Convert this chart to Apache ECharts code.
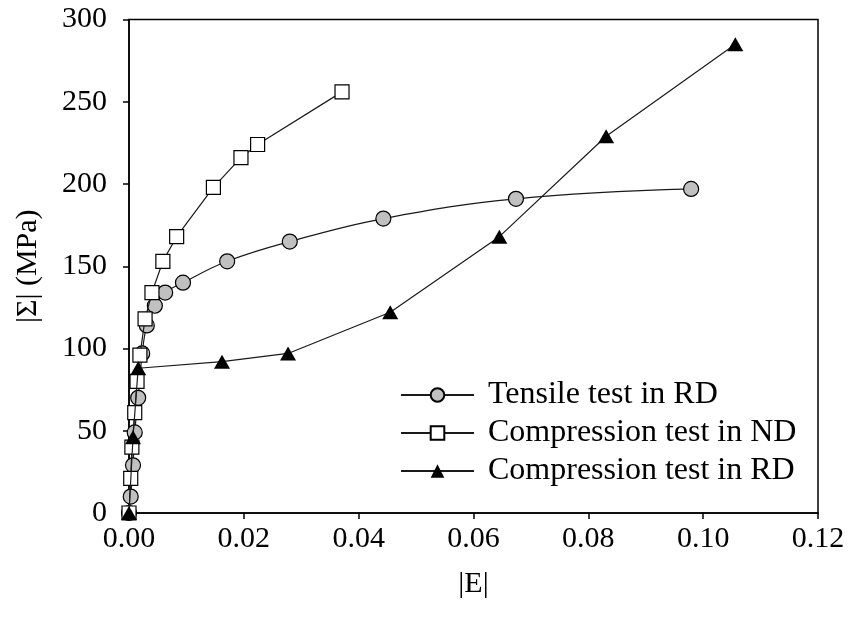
<!DOCTYPE html>
<html>
<head>
<meta charset="utf-8">
<script src="https://cdn.jsdelivr.net/npm/echarts@6/dist/echarts.min.js"></script>
<style>
  html, body { margin: 0; padding: 0; background: #fff; }
  #chart { width: 849px; height: 626px; }
</style>
</head>
<body>
<div id="chart"></div>
<script>
// Strain |E| and stress |Σ| (MPa) for each test
const tensileRD_E = [0, 0.0003, 0.0007, 0.0010, 0.0016, 0.0023, 0.0031, 0.0045, 0.0063, 0.0094, 0.0171, 0.0280, 0.0443, 0.0674, 0.0979];
const tensileRD_S = [0, 10, 29, 49, 70, 97, 114, 126, 134, 140, 153, 165, 179, 191, 197];

const compND_E = [0, 0.0003, 0.0005, 0.0010, 0.0014, 0.0019, 0.0028, 0.0040, 0.0059, 0.0083, 0.0147, 0.0195, 0.0224, 0.0371];
const compND_S = [0, 21, 40, 61, 80, 96, 118, 134, 153, 168, 198, 216, 224, 256];

const compRD_E = [0, 0.0007, 0.0016, 0.0162, 0.0277, 0.0455, 0.0645, 0.0831, 0.1056];
const compRD_S = [0, 46, 88, 92, 97, 122, 168, 229, 285];

const xTicks = { min: 0, max: 0.12, interval: 0.02 };
const yTicks = { min: 0, max: 300, interval: 50 };

const names = ['Tensile test in RD', 'Compression test in ND', 'Compression test in RD'];

const pairs = (xs, ys) => xs.map((x, i) => [x, ys[i]]);

const serif = 'Liberation Serif';
const lineColor = '#1a1a1a';

const chart = echarts.init(document.getElementById('chart'), null, { renderer: 'canvas' });

chart.setOption({
  animation: false,
  backgroundColor: '#ffffff',
  textStyle: { fontFamily: serif, color: '#000' },
  grid: {
    left: 129, right: 31, top: 19.5, bottom: 113,
    show: true, borderColor: '#000', borderWidth: 1.5, backgroundColor: 'transparent'
  },
  legend: {
    orient: 'vertical',
    left: 395,
    top: 374,
    itemWidth: 73,
    itemHeight: 17,
    itemGap: 6,
    data: names,
    textStyle: { fontFamily: serif, fontSize: 32, color: '#000', padding: [0, 0, 0, 9] }
  },
  xAxis: {
    type: 'value',
    min: xTicks.min, max: xTicks.max, interval: xTicks.interval,
    name: '|E|',
    nameLocation: 'middle',
    nameGap: 56,
    nameTextStyle: { fontFamily: serif, fontSize: 30, color: '#000' },
    axisLine: { show: true, lineStyle: { color: '#000', width: 1.5 } },
    axisTick: { show: true, inside: false, length: 6, lineStyle: { color: '#000', width: 1.5 } },
    axisLabel: {
      fontFamily: serif, fontSize: 30, color: '#000', margin: 11,
      formatter: v => v.toFixed(2)
    },
    splitLine: { show: false }
  },
  yAxis: {
    type: 'value',
    min: yTicks.min, max: yTicks.max, interval: yTicks.interval,
    name: '|Σ| (MPa)',
    nameLocation: 'middle',
    nameGap: 86,
    nameTextStyle: { fontFamily: serif, fontSize: 30, color: '#000' },
    axisLine: { show: true, lineStyle: { color: '#000', width: 1.5 } },
    axisTick: { show: true, inside: false, length: 6, lineStyle: { color: '#000', width: 1.5 } },
    axisLabel: { fontFamily: serif, fontSize: 30, color: '#000', margin: 22 },
    splitLine: { show: false }
  },
  series: [
    {
      name: names[0],
      type: 'line',
      data: pairs(tensileRD_E, tensileRD_S),
      smooth: 0.4,
      symbol: 'circle',
      symbolSize: 15,
      lineStyle: { color: lineColor, width: 1.2 },
      itemStyle: { color: '#c0c0c0', borderColor: '#000', borderWidth: 1.2 },
      z: 2
    },
    {
      name: names[1],
      type: 'line',
      data: pairs(compND_E, compND_S),
      symbol: 'rect',
      symbolSize: 14,
      lineStyle: { color: lineColor, width: 1.2 },
      itemStyle: { color: '#ffffff', borderColor: '#000', borderWidth: 1.2 },
      z: 3
    },
    {
      name: names[2],
      type: 'line',
      data: pairs(compRD_E, compRD_S),
      symbol: 'triangle',
      symbolSize: [16, 14],
      lineStyle: { color: lineColor, width: 1.2 },
      itemStyle: { color: '#000000', borderColor: '#000', borderWidth: 0 },
      z: 4
    }
  ]
});
</script>
</body>
</html>
